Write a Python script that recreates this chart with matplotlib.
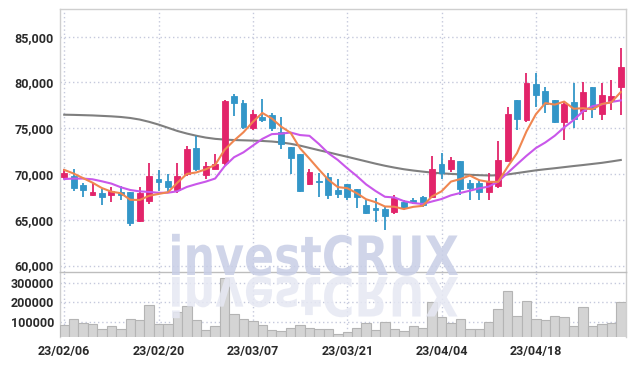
import matplotlib
matplotlib.use("Agg")
import matplotlib.pyplot as plt
import numpy as np
from matplotlib.textpath import TextPath
from matplotlib.patches import PathPatch
from matplotlib.font_manager import FontProperties
from matplotlib.transforms import Affine2D, IdentityTransform

# ---------------- data ----------------
dates = ["2023-02-06", "2023-02-07", "2023-02-08", "2023-02-09", "2023-02-10",
         "2023-02-13", "2023-02-14", "2023-02-15", "2023-02-16", "2023-02-17",
         "2023-02-20", "2023-02-21", "2023-02-22", "2023-02-23", "2023-02-24",
         "2023-02-27", "2023-02-28", "2023-03-02", "2023-03-03", "2023-03-06",
         "2023-03-07", "2023-03-08", "2023-03-09", "2023-03-10", "2023-03-13",
         "2023-03-14", "2023-03-15", "2023-03-16", "2023-03-17", "2023-03-20",
         "2023-03-21", "2023-03-22", "2023-03-23", "2023-03-24", "2023-03-27",
         "2023-03-28", "2023-03-29", "2023-03-30", "2023-03-31", "2023-04-03",
         "2023-04-04", "2023-04-05", "2023-04-06", "2023-04-07", "2023-04-10",
         "2023-04-11", "2023-04-12", "2023-04-13", "2023-04-14", "2023-04-17",
         "2023-04-18", "2023-04-19", "2023-04-20", "2023-04-21", "2023-04-24",
         "2023-04-25", "2023-04-26", "2023-04-27", "2023-04-28", "2023-05-02"]

opens = [69700, 69800, 68800, 67650, 67950, 67650, 68000, 68000, 64850, 67000,
         69500, 69250, 68250, 69950, 72850, 69900, 70550, 71150, 78500, 77800,
         75000, 76200, 76500, 74600, 73000, 72200, 68900, 69250, 69650, 68250,
         68900, 68350, 66600, 66300, 66150, 65900, 66950, 67150, 67450, 67450,
         71100, 70600, 71400, 69050, 69000, 68050, 68700, 71450, 78100, 75900,
         79800, 79050, 78100, 75700, 77900, 76900, 79500, 76550, 78000, 79500]
highs = [70600, 70500, 69000, 69000, 68400, 68600, 68700, 68000, 68550, 71250,
         70450, 69950, 71150, 73100, 74150, 71350, 72200, 78050, 78700, 78100,
         77000, 78150, 76650, 76200, 73000, 72200, 70600, 70100, 70100, 69400,
         68900, 68400, 67150, 67350, 66400, 67700, 67150, 67400, 67550, 71950,
         72300, 71900, 71450, 69350, 69350, 70100, 73600, 77350, 78100, 81000,
         81000, 79550, 78100, 77900, 79900, 80100, 79500, 79900, 80250, 83750]
lows = [69500, 68100, 67500, 67600, 66600, 66900, 67200, 64350, 64800, 66700,
        68100, 68000, 67900, 69800, 70350, 69400, 70500, 71000, 76350, 74900,
        74800, 75700, 74750, 72700, 69950, 68050, 68850, 67500, 67250, 67350,
        67150, 66250, 65600, 64800, 63900, 65650, 66050, 66700, 66400, 67350,
        69400, 70250, 67700, 67150, 67150, 67150, 68450, 71400, 74800, 75700,
        77350, 76650, 75600, 73700, 75000, 75900, 76100, 75900, 77000, 76450]
closes = [70100, 68500, 68200, 68000, 67500, 68150, 67650, 64600, 67900, 69800,
          69150, 68600, 69800, 72700, 70600, 70850, 71050, 78000, 77750, 75150,
          76550, 75900, 75000, 73250, 71800, 68100, 70200, 69100, 67650, 67800,
          67500, 67500, 65750, 66050, 65450, 67350, 66250, 66950, 66600, 70600,
          70150, 71550, 68350, 68500, 68050, 69250, 71550, 76550, 76000, 79900,
          78650, 77650, 75700, 77650, 76000, 78950, 77050, 78600, 78550, 81650]
volumes = [83000, 117000, 92000, 87000, 66000, 78000, 66000, 117000, 112000, 186000,
           88000, 88000, 151000, 180000, 112000, 61000, 78000, 322000, 139000, 117000,
           103000, 83000, 61000, 54000, 71000, 83000, 71000, 66000, 66000, 40000,
           46000, 71000, 92000, 61000, 100000, 66000, 54000, 78000, 71000, 200000,
           123000, 97000, 117000, 66000, 66000, 100000, 168000, 259000, 129000, 208000,
           117000, 109000, 129000, 123000, 81000, 174000, 78000, 88000, 92000, 200000]

ma5 = [70450, 70050, 69550, 69050, 68460, 68070, 67900, 67180, 67160, 67620,
       67820, 68010, 69050, 70010, 70170, 70510, 71000, 72640, 73650, 74560,
       75700, 76670, 76070, 75170, 74500, 72810, 71670, 70490, 69370, 68570,
       68450, 67910, 67240, 66920, 66450, 66420, 66170, 66410, 66520, 67550,
       68110, 69170, 69450, 69830, 69320, 69140, 69140, 70780, 72280, 74650,
       76530, 77750, 77580, 77910, 77130, 77190, 77070, 77650, 77830, 78960]
ma10 = [69450, 69500, 69500, 69420, 69200, 68950, 68550, 68250, 68100, 68040,
        67945, 67955, 68115, 68585, 68895, 69165, 69505, 70845, 71830, 72365,
        73105, 73835, 74355, 74410, 74530, 74255, 74170, 73280, 72270, 71535,
        70630, 69790, 68865, 68145, 67510, 67435, 67040, 66825, 66720, 67000,
        67265, 67670, 67930, 68175, 68435, 68625, 69155, 70115, 71055, 71985,
        72835, 73445, 74180, 75095, 75890, 76860, 77410, 77615, 77870, 78045]
ma60 = [76480, 76460, 76430, 76400, 76350, 76300, 76230, 76120, 75950, 75700,
        75400, 75050, 74700, 74420, 74180, 73980, 73840, 73760, 73710, 73680,
        73650, 73610, 73550, 73450, 73300, 73100, 72850, 72600, 72370, 72120,
        71880, 71630, 71380, 71130, 70900, 70700, 70520, 70380, 70260, 70150,
        70070, 70010, 69960, 69910, 69870, 69840, 69860, 69950, 70100, 70250,
        70400, 70520, 70630, 70750, 70870, 70980, 71100, 71220, 71370, 71530]

price_ticks = [60000, 65000, 70000, 75000, 80000, 85000]
volume_ticks = [100000, 200000, 300000]
label_every = 10

# ---------------- style ----------------
UP = "#e2246a"
DOWN = "#3396c8"
GRID = "#c5c9dc"
TXT = "#2a2a2a"
W, H = 634, 366
plt.rcParams["font.family"] = ["Roboto", "DejaVu Sans"]

fig = plt.figure(figsize=(W / 100, H / 100), dpi=100)
left, right = 59.5 / W, 625.5 / W
ax = fig.add_axes([left, 1 - 272 / H, right - left, (272 - 9) / H])
axv = fig.add_axes([left, 1 - 337 / H, right - left, (337 - 272) / H], sharex=ax)
for a in (ax, axv):
    a.set_facecolor("none")

x = np.arange(len(dates))
o = np.array(opens); c = np.array(closes); h = np.array(highs); l = np.array(lows)
up = c >= o
cols = np.where(up, UP, DOWN)

ax.vlines(x, l, h, colors=cols, linewidth=1.3, zorder=3)
body_bottom = np.minimum(o, c)
body_h = np.maximum(np.abs(c - o), 60)
ax.bar(x, body_h, bottom=body_bottom, width=0.62, color=cols, edgecolor=cols,
       linewidth=0.6, zorder=4)

ax.plot(x, ma60, color="#7f7f7f", lw=1.5, zorder=2)
ax.plot(x, ma10, color="#c957ea", lw=1.5, zorder=5)
ax.plot(x, ma5, color="#f08650", lw=1.5, zorder=5)

ax.set_xlim(-0.5, len(dates) - 0.5)
ax.set_ylim(59290, 88030)
ax.set_yticks(price_ticks)
ax.set_yticklabels([f"{v:,}" for v in price_ticks])

axv.bar(x, volumes, width=1.0, color="#d4d4d4", edgecolor="#b4b4b4", linewidth=0.8, zorder=3)
axv.set_ylim(23000, 355000)
axv.set_yticks(volume_ticks)
axv.set_yticklabels([str(v) for v in volume_ticks])

tick_idx = list(range(0, len(dates), label_every))
axv.set_xticks(tick_idx)
axv.set_xticklabels([dates[i][2:].replace("-", "/") for i in tick_idx])

for a in (ax, axv):
    a.grid(True, color=GRID, linestyle=(0, (1, 2)), linewidth=1.0, zorder=0)
    a.set_axisbelow(True)
    a.tick_params(length=0, labelsize=9, colors=TXT, pad=4)
    for lab in a.get_yticklabels() + a.get_xticklabels():
        lab.set_fontweight("bold")
    for s in a.spines.values():
        s.set_color("#cfcfcf")
        s.set_linewidth(1.0)
ax.tick_params(axis="x", labelbottom=False)
ax.spines["bottom"].set_visible(False)
axv.spines["top"].set_color("#bdbdbd")
axv.spines["bottom"].set_visible(False)
axv.tick_params(axis="x", pad=6)

# ---------------- watermark ----------------
fp = FontProperties(family="DejaVu Sans", weight="bold")
tp = TextPath((0, 0), "investCRUX", size=100, prop=fp)
cap = TextPath((0, 0), "CRUX", size=100, prop=fp).get_extents()
ext = tp.get_extents()
sx = 286 / ext.width
sy = 41 / cap.height
x0 = 172 - ext.x0 * sx
main = Affine2D().scale(sx, sy).translate(x0, H - 275)
refl = Affine2D().scale(sx, -sy).translate(x0, H - 277)
fig.add_artist(PathPatch(refl.transform_path(tp), transform=IdentityTransform(),
                         fc="#e6e8f3", ec="none", alpha=0.85, zorder=6))
fig.add_artist(PathPatch(main.transform_path(tp), transform=IdentityTransform(),
                         fc="#c8cee6", ec="none", alpha=0.85, zorder=6))

fig.savefig("out.png", dpi=100)
